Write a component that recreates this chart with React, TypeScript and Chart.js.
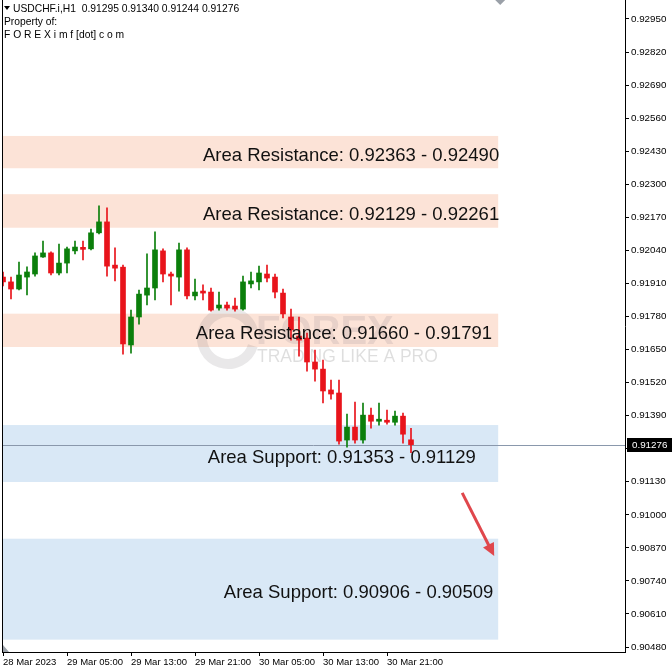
import React, { useEffect, useRef } from "react";
import { Chart, registerables } from "chart.js";

Chart.register(...registerables);

// ---------- data ----------
const symbolTitle = "USDCHF.i,H1";
const headerValues = ["0.91295", "0.91340", "0.91244", "0.91276"];
const propertyLines = ["Property of:", "F O R E X i m f [dot] c o m"];

const timeTickIndex = [0, 8, 16, 24, 32, 40, 48];
const timeTickLabels = [
  "28 Mar 2023",
  "29 Mar 05:00",
  "29 Mar 13:00",
  "29 Mar 21:00",
  "30 Mar 05:00",
  "30 Mar 13:00",
  "30 Mar 21:00",
];

const priceTicks = [
  0.9048, 0.9061, 0.9074, 0.9087, 0.91, 0.9113, 0.9126, 0.9139, 0.9152, 0.9165,
  0.9178, 0.9191, 0.9204, 0.9217, 0.923, 0.9243, 0.9256, 0.9269, 0.9282, 0.9295,
];
const priceMin = 0.904604;
const priceMax = 0.930247;

const opens = [
  0.91935, 0.91916, 0.91888, 0.91935, 0.91947, 0.92014, 0.9203, 0.91951, 0.9199, 0.92038,
  0.92052, 0.92046, 0.92109, 0.92152, 0.91982, 0.91974, 0.91668, 0.91778, 0.91864, 0.91892,
  0.92038, 0.91947, 0.91935, 0.92042, 0.91861, 0.9188, 0.91876, 0.91813, 0.91825, 0.91821,
  0.91809, 0.91908, 0.91916, 0.91947, 0.91935, 0.91872, 0.91778, 0.91703, 0.91695, 0.91601,
  0.91573, 0.91491, 0.91479, 0.91294, 0.91345, 0.91294, 0.91392, 0.91368, 0.91372, 0.91364,
  0.91388, 0.91295,
];
const highs = [
  0.91955, 0.91935, 0.91994, 0.91975, 0.9203, 0.92077, 0.92034, 0.92065, 0.92053, 0.92077,
  0.92077, 0.92124, 0.92215, 0.92207, 0.9205, 0.91982, 0.91805, 0.91884, 0.92026, 0.92113,
  0.92046, 0.91955, 0.92069, 0.9205, 0.91927, 0.91904, 0.91892, 0.91876, 0.91837, 0.91852,
  0.91939, 0.91955, 0.91978, 0.91982, 0.91947, 0.91888, 0.91809, 0.91778, 0.91715, 0.91648,
  0.91609, 0.9153, 0.9153, 0.91396, 0.91443, 0.91439, 0.9142, 0.91439, 0.91412, 0.91408,
  0.914, 0.9134,
];
const lows = [
  0.919, 0.91849, 0.91884, 0.91865, 0.91939, 0.92012, 0.91943, 0.91943, 0.91951, 0.92026,
  0.92002, 0.92042, 0.92105, 0.91939, 0.9192, 0.91632, 0.91636, 0.9175, 0.91825, 0.91845,
  0.91916, 0.91825, 0.9188, 0.91849, 0.91845, 0.91845, 0.91801, 0.91805, 0.91805, 0.91801,
  0.91805, 0.91892, 0.91884, 0.91916, 0.91853, 0.91774, 0.91687, 0.91624, 0.91565, 0.91526,
  0.9144, 0.91455, 0.91278, 0.91266, 0.91282, 0.91282, 0.91341, 0.91353, 0.91356, 0.91353,
  0.91282, 0.91244,
];
const closes = [
  0.91916, 0.91888, 0.91943, 0.91955, 0.92018, 0.9203, 0.91951, 0.9199, 0.92046, 0.92053,
  0.92044, 0.92109, 0.92152, 0.91978, 0.9197, 0.91672, 0.91778, 0.91868, 0.91892, 0.92042,
  0.91947, 0.91939, 0.92042, 0.91861, 0.91876, 0.91872, 0.91805, 0.91825, 0.91813, 0.91809,
  0.91916, 0.9192, 0.91951, 0.91931, 0.91876, 0.9179, 0.91727, 0.91687, 0.91601, 0.91573,
  0.91487, 0.91475, 0.9129, 0.91345, 0.91294, 0.91392, 0.91368, 0.91376, 0.91364, 0.91388,
  0.91317, 0.91276,
];

const zoneTitles = ["Area Resistance", "Area Resistance", "Area Resistance", "Area Support", "Area Support"];
const zoneLows = [0.92363, 0.92129, 0.9166, 0.91129, 0.90509];
const zoneHighs = [0.9249, 0.92261, 0.91791, 0.91353, 0.90906];
const zoneIsResistance = [true, true, true, false, false];
const zoneLabelIndex = [25.0, 25.0, 24.1, 25.6, 27.6];
const zoneEndIndex = 61.9;

const currentPrice = 0.91276;
const arrowStart = [57.4, 0.91086];
const arrowEnd = [61.4, 0.90838];

const fmt = (v: number) => v.toFixed(5);

// ---------- colors ----------
const UP = "#0b7f0b";
const DOWN = "#e8141b";
const RES_FILL = "#fce3d7";
const SUP_FILL = "#d9e8f6";
const FONT = "'Liberation Sans', Arial, sans-serif";

const candleColors = opens.map((o, i) => (closes[i] >= o ? UP : DOWN));

const overlayPlugin = {
  id: "overlay",
  beforeDatasetsDraw(chart: any) {
    const { ctx, chartArea, scales } = chart;
    const x = scales.x;
    const y = scales.y;
    ctx.save();
    // zones
    const xr = x.getPixelForValue(zoneEndIndex);
    zoneLows.forEach((lo, i) => {
      const yt = y.getPixelForValue(zoneHighs[i]);
      const yb = y.getPixelForValue(lo);
      ctx.fillStyle = zoneIsResistance[i] ? RES_FILL : SUP_FILL;
      ctx.fillRect(chartArea.left, yt, xr - chartArea.left, yb - yt);
    });
    // watermark
    const cx = chartArea.left + 226;
    const cy = chartArea.top + 338;
    ctx.strokeStyle = "rgba(120,110,120,0.16)";
    ctx.lineWidth = 10;
    ctx.beginPath();
    ctx.arc(cx, cy, 26, 0.3, Math.PI * 2 - 0.3);
    ctx.stroke();
    ctx.fillStyle = "rgba(120,110,120,0.15)";
    ctx.font = `bold 40px ${FONT}`;
    ctx.textBaseline = "alphabetic";
    ctx.textAlign = "left";
    ctx.fillText("FOREX", cx + 28, cy + 6);
    ctx.fillStyle = "rgba(0,0,0,0.13)";
    ctx.font = `17.5px ${FONT}`;
    ctx.fillText("TRADING LIKE A PRO", cx + 29, cy + 24);
    // current price line
    const py = Math.round(y.getPixelForValue(currentPrice)) + 0.5;
    ctx.strokeStyle = "#8a98ac";
    ctx.lineWidth = 1;
    ctx.beginPath();
    ctx.moveTo(chartArea.left, py);
    ctx.lineTo(chartArea.right, py);
    ctx.stroke();
    ctx.restore();
  },
  afterDatasetsDraw(chart: any) {
    const { ctx, scales } = chart;
    const x = scales.x;
    const y = scales.y;
    ctx.save();
    ctx.font = `18.5px ${FONT}`;
    ctx.fillStyle = "#111";
    ctx.textAlign = "left";
    ctx.textBaseline = "alphabetic";
    zoneLows.forEach((lo, i) => {
      const hi = zoneHighs[i];
      const label = zoneIsResistance[i]
        ? `${zoneTitles[i]}: ${fmt(lo)} - ${fmt(hi)}`
        : `${zoneTitles[i]}: ${fmt(hi)} - ${fmt(lo)}`;
      const yc = (y.getPixelForValue(hi) + y.getPixelForValue(lo)) / 2;
      ctx.fillText(label, x.getPixelForValue(zoneLabelIndex[i]), yc + 9);
    });
    // arrow
    const x1 = x.getPixelForValue(arrowStart[0]);
    const y1 = y.getPixelForValue(arrowStart[1]);
    const x2 = x.getPixelForValue(arrowEnd[0]);
    const y2 = y.getPixelForValue(arrowEnd[1]);
    const ang = Math.atan2(y2 - y1, x2 - x1);
    const head = 14;
    ctx.strokeStyle = "#e0474c";
    ctx.fillStyle = "#e0474c";
    ctx.lineWidth = 3;
    ctx.beginPath();
    ctx.moveTo(x1, y1);
    ctx.lineTo(x2 - Math.cos(ang) * head * 0.7, y2 - Math.sin(ang) * head * 0.7);
    ctx.stroke();
    ctx.beginPath();
    ctx.moveTo(x2, y2);
    ctx.lineTo(x2 - head * Math.cos(ang - 0.45), y2 - head * Math.sin(ang - 0.45));
    ctx.lineTo(x2 - head * Math.cos(ang + 0.45), y2 - head * Math.sin(ang + 0.45));
    ctx.closePath();
    ctx.fill();
    ctx.restore();
  },
  afterDraw(chart: any) {
    const { ctx, chartArea, scales } = chart;
    const y = scales.y;
    ctx.save();
    // left frame
    ctx.strokeStyle = "#000";
    ctx.lineWidth = 1;
    ctx.beginPath();
    ctx.moveTo(chartArea.left + 0.5, chartArea.top);
    ctx.lineTo(chartArea.left + 0.5, chartArea.bottom);
    ctx.stroke();
    // header
    ctx.fillStyle = "#000";
    ctx.font = `10.3px ${FONT}`;
    ctx.textAlign = "left";
    ctx.textBaseline = "middle";
    ctx.beginPath();
    ctx.moveTo(chartArea.left + 2, chartArea.top + 6);
    ctx.lineTo(chartArea.left + 8, chartArea.top + 6);
    ctx.lineTo(chartArea.left + 5, chartArea.top + 10);
    ctx.closePath();
    ctx.fill();
    ctx.fillText(`${symbolTitle}  ${headerValues.join(" ")}`, chartArea.left + 11, chartArea.top + 9);
    propertyLines.forEach((t, i) => ctx.fillText(t, chartArea.left + 2, chartArea.top + 22 + i * 13));
    // chart shift marker
    const mx = scales.x.getPixelForValue(zoneEndIndex) + 2;
    ctx.fillStyle = "#9aa0a8";
    ctx.beginPath();
    ctx.moveTo(mx - 5, chartArea.top);
    ctx.lineTo(mx + 5, chartArea.top);
    ctx.lineTo(mx, chartArea.top + 5);
    ctx.closePath();
    ctx.fill();
    ctx.beginPath();
    ctx.moveTo(chartArea.left + 1, chartArea.bottom);
    ctx.lineTo(chartArea.left + 1, chartArea.bottom - 7);
    ctx.lineTo(chartArea.left + 7, chartArea.bottom);
    ctx.closePath();
    ctx.fill();
    // current price box
    const py = Math.round(y.getPixelForValue(currentPrice));
    ctx.fillStyle = "#000";
    ctx.fillRect(chartArea.right + 2, py - 7, 45, 14);
    ctx.fillStyle = "#fff";
    ctx.font = `9.8px ${FONT}`;
    ctx.textBaseline = "middle";
    ctx.fillText(fmt(currentPrice), chartArea.right + 7, py);
    ctx.restore();
  },
};

export default function App() {
  const ref = useRef<HTMLCanvasElement | null>(null);
  useEffect(() => {
    document.body.style.margin = "0";
    const canvas = ref.current;
    if (!canvas) return;
    const chart = new Chart(canvas, {
      type: "bar",
      data: {
        datasets: [
          {
            label: "body",
            data: opens.map((o, i) => ({ x: i, y: [o, closes[i]] })) as any,
            backgroundColor: candleColors,
            barThickness: 5,
            grouped: false,
            minBarLength: 1,
          },
          {
            label: "wick",
            data: lows.map((l, i) => ({ x: i, y: [l, highs[i]] })) as any,
            backgroundColor: candleColors,
            barThickness: 1,
            grouped: false,
          },
        ],
      },
      options: {
        responsive: false,
        animation: false,
        events: [],
        layout: { padding: { left: 2, top: 0, right: 0, bottom: 0 } },
        plugins: { legend: { display: false }, tooltip: { enabled: false } },
        scales: {
          x: {
            type: "linear",
            min: -0.125,
            max: 77.75,
            offset: false,
            afterBuildTicks: (scale: any) => {
              scale.ticks = timeTickIndex.map((v) => ({ value: v }));
            },
            afterFit: (scale: any) => {
              scale.height = 20;
              scale.paddingLeft = 0;
              scale.paddingRight = 0;
            },
            ticks: {
              autoSkip: false,
              maxRotation: 0,
              minRotation: 0,
              align: "start",
              padding: 1,
              color: "#000",
              font: { family: FONT, size: 9.5 },
              callback: (v: any) => {
                const k = timeTickIndex.indexOf(Number(v));
                return k >= 0 ? timeTickLabels[k] : "";
              },
            },
            grid: { drawOnChartArea: false, drawTicks: true, tickLength: 4, color: "#000", offset: false },
            border: { display: true, color: "#000" },
          },
          y: {
            type: "linear",
            position: "right",
            min: priceMin,
            max: priceMax,
            beginAtZero: false,
            afterBuildTicks: (scale: any) => {
              scale.ticks = priceTicks.map((v) => ({ value: v }));
            },
            afterFit: (scale: any) => {
              scale.width = 47;
              scale.paddingTop = 0;
              scale.paddingBottom = 0;
            },
            ticks: {
              padding: 2,
              color: "#000",
              font: { family: FONT, size: 9.8 },
              callback: (v: any) => fmt(Number(v)),
            },
            grid: { drawOnChartArea: false, drawTicks: true, tickLength: 4, color: "#000" },
            border: { display: true, color: "#000" },
          },
        },
      },
      plugins: [overlayPlugin],
    } as any);
    return () => chart.destroy();
  }, []);
  return (
    <div style={{ position: "fixed", left: 0, top: 0, width: 672, height: 672, background: "#fff" }}>
      <canvas ref={ref} width={672} height={672} style={{ display: "block" }} />
    </div>
  );
}
